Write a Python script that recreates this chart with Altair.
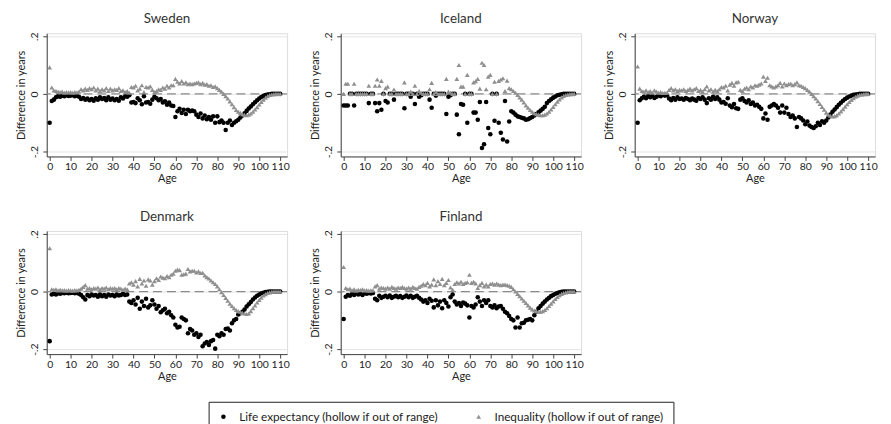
import altair as alt
import pandas as pd

FONT = "Lato"

ages = list(range(111))
countries = ["Sweden", "Iceland", "Norway", "Denmark", "Finland"]
series_names = ["Life expectancy (hollow if out of range)", "Inequality (hollow if out of range)"]
y_ticks = [-0.2, -0.1, 0, 0.1, 0.2]
x_ticks = list(range(0, 111, 10))

sweden_le = [
    -0.100, -0.025, -0.020, -0.012, -0.008, -0.010, -0.006, -0.008, -0.005, -0.007,
    -0.006, -0.005, -0.008, -0.006, -0.010, -0.018, -0.014, -0.020, -0.016, -0.022,
    -0.018, -0.024, -0.015, -0.020, -0.012, -0.018, -0.014, -0.022, -0.012, -0.020,
    -0.016, -0.022, -0.018, -0.024, -0.012, -0.016, -0.008, -0.010, -0.005, -0.030,
    -0.028, -0.032, -0.015, -0.022, -0.036, -0.008, -0.030, -0.028, -0.034, -0.020,
    -0.010, -0.015, -0.022, -0.018, -0.030, -0.026, -0.038, -0.030, -0.040, -0.042,
    -0.080, -0.060, -0.052, -0.066, -0.055, -0.070, -0.055, -0.060, -0.058, -0.060,
    -0.072, -0.080, -0.068, -0.085, -0.075, -0.088, -0.080, -0.090, -0.078, -0.100,
    -0.078, -0.098, -0.092, -0.100, -0.125, -0.100, -0.092, -0.108, -0.100, -0.095,
    -0.090, -0.082, -0.075, -0.067, -0.059, -0.051, -0.044, -0.036, -0.029, -0.022,
    -0.016, -0.011, -0.007, -0.004, -0.002, -0.001, 0.0, 0.0, 0.0, 0.0, 0.0,
]
sweden_ineq = [
    0.092, 0.022, 0.012, 0.010, 0.008, 0.006, 0.008, 0.004, 0.006, 0.005,
    0.006, 0.004, 0.006, 0.005, 0.008, 0.016, 0.012, 0.018, 0.014, 0.020,
    0.016, 0.022, 0.012, 0.018, 0.010, 0.016, 0.012, 0.020, 0.010, 0.018,
    0.012, 0.016, 0.014, 0.020, 0.010, 0.012, 0.006, 0.010, 0.004, 0.024,
    0.022, 0.028, 0.012, 0.018, 0.030, 0.006, 0.024, 0.022, 0.026, 0.014,
    0.006, 0.010, 0.016, 0.014, 0.022, 0.018, 0.028, 0.022, 0.030, 0.030,
    0.052, 0.042, 0.036, 0.044, 0.036, 0.040, 0.034, 0.036, 0.034, 0.036,
    0.038, 0.040, 0.034, 0.038, 0.032, 0.034, 0.028, 0.030, 0.024, 0.026,
    0.020, 0.014, 0.008, 0.000, -0.008, -0.016, -0.026, -0.036, -0.046, -0.056,
    -0.062, -0.066, -0.070, -0.073, -0.074, -0.072, -0.068, -0.062, -0.054, -0.046,
    -0.037, -0.028, -0.020, -0.013, -0.008, -0.004, -0.002, -0.001, 0.0, 0.0, 0.0,
]

iceland_le = [
    -0.040, -0.040, -0.040, 0.0, 0.0, -0.040, 0.0, 0.0, 0.0, 0.0,
    0.0, 0.0, -0.032, 0.0, 0.0, -0.032, -0.060, -0.032, -0.055, 0.0,
    -0.025, -0.030, 0.0, 0.0, -0.020, 0.0, 0.0, 0.0, 0.0, -0.050,
    0.0, 0.0, -0.010, 0.0, -0.035, 0.0, -0.010, -0.005, 0.0, 0.0,
    0.0, -0.020, -0.048, 0.0, -0.006, 0.0, 0.0, 0.0, 0.0, -0.070,
    -0.010, -0.005, 0.0, 0.0, -0.072, -0.140, -0.035, -0.038, 0.0, -0.100,
    0.0, 0.0, -0.065, -0.065, -0.090, -0.028, -0.188, -0.175, -0.028, -0.118,
    -0.140, 0.0, -0.093, 0.0, -0.100, -0.135, -0.158, -0.025, -0.165, -0.096,
    -0.060, -0.065, -0.072, -0.078, -0.080, -0.083, -0.085, -0.090, -0.088, -0.084,
    -0.080, -0.075, -0.070, -0.064, -0.058, -0.052, -0.045, -0.032, -0.025, -0.019,
    -0.013, -0.009, -0.005, -0.003, -0.001, 0.0, 0.0, 0.0, 0.0, 0.0, 0.0,
]
iceland_ineq = [
    0.0, 0.035, 0.035, 0.0, 0.0, 0.035, 0.0, 0.0, 0.0, 0.0,
    0.0, 0.0, 0.028, 0.0, 0.0, 0.028, 0.050, 0.028, 0.045, 0.0,
    0.020, 0.025, 0.0, 0.0, 0.015, 0.0, 0.0, 0.0, 0.0, 0.040,
    0.0, 0.0, 0.008, 0.0, 0.028, 0.0, 0.010, 0.004, 0.0, 0.0,
    0.0, 0.016, 0.038, 0.0, 0.006, 0.0, 0.0, 0.0, 0.0, 0.052,
    0.008, 0.004, 0.0, 0.0, 0.052, 0.100, 0.025, 0.025, 0.0, 0.066,
    0.0, 0.0, 0.040, 0.044, 0.052, 0.018, 0.108, 0.100, 0.016, 0.060,
    0.066, 0.0, 0.042, 0.0, 0.045, 0.050, 0.054, 0.010, 0.046, 0.020,
    0.016, 0.010, 0.004, -0.004, -0.012, -0.020, -0.030, -0.040, -0.048, -0.056,
    -0.062, -0.067, -0.070, -0.072, -0.074, -0.074, -0.072, -0.068, -0.062, -0.054,
    -0.045, -0.036, -0.027, -0.019, -0.012, -0.007, -0.004, -0.002, -0.001, 0.0, 0.0,
]

norway_le = [
    -0.100, -0.022, -0.015, -0.010, -0.015, -0.008, -0.012, -0.006, -0.014, -0.010,
    -0.005, -0.008, -0.004, -0.006, -0.005, -0.016, -0.022, -0.014, -0.020, -0.012,
    -0.018, -0.016, -0.020, -0.014, -0.018, -0.022, -0.016, -0.020, -0.024, -0.014,
    -0.018, -0.012, -0.020, -0.032, -0.015, -0.020, -0.010, -0.018, -0.012, -0.020,
    -0.030, -0.028, -0.034, -0.015, -0.040, -0.046, -0.035, -0.050, -0.052, -0.020,
    -0.015, -0.025, -0.030, -0.022, -0.035, -0.030, -0.040, -0.038, -0.045, -0.052,
    -0.085, -0.068, -0.090, -0.045, -0.040, -0.035, -0.040, -0.048, -0.065, -0.040,
    -0.065, -0.048, -0.070, -0.080, -0.075, -0.085, -0.115, -0.080, -0.085, -0.092,
    -0.105, -0.096, -0.110, -0.115, -0.118, -0.112, -0.100, -0.108, -0.095, -0.100,
    -0.092, -0.082, -0.072, -0.062, -0.054, -0.046, -0.038, -0.031, -0.024, -0.018,
    -0.013, -0.009, -0.006, -0.003, -0.002, -0.001, 0.0, 0.0, 0.0, 0.0, 0.0,
]
norway_ineq = [
    0.095, 0.018, 0.010, 0.008, 0.012, 0.006, 0.010, 0.004, 0.012, 0.008,
    0.004, 0.006, 0.003, 0.004, 0.004, 0.014, 0.020, 0.012, 0.016, 0.010,
    0.014, 0.012, 0.016, 0.010, 0.014, 0.018, 0.012, 0.016, 0.020, 0.010,
    0.014, 0.008, 0.016, 0.026, 0.012, 0.016, 0.008, 0.014, 0.010, 0.016,
    0.024, 0.022, 0.028, 0.012, 0.032, 0.038, 0.028, 0.040, 0.042, 0.014,
    0.010, 0.018, 0.022, 0.016, 0.026, 0.022, 0.030, 0.028, 0.032, 0.036,
    0.060, 0.045, 0.056, 0.030, 0.026, 0.022, 0.026, 0.030, 0.038, 0.026,
    0.036, 0.030, 0.034, 0.036, 0.030, 0.034, 0.040, 0.030, 0.028, 0.024,
    0.020, 0.014, 0.008, 0.000, -0.008, -0.016, -0.025, -0.035, -0.045, -0.055,
    -0.065, -0.072, -0.076, -0.078, -0.077, -0.074, -0.068, -0.061, -0.053, -0.044,
    -0.036, -0.028, -0.021, -0.015, -0.010, -0.006, -0.003, -0.002, -0.001, 0.0, 0.0,
]

denmark_le = [
    -0.172, -0.010, -0.008, -0.010, -0.006, -0.008, -0.005, -0.006, -0.004, -0.006,
    -0.005, -0.004, -0.006, -0.005, -0.008, -0.012, -0.020, -0.028, -0.012, -0.016,
    -0.010, -0.014, -0.012, -0.018, -0.010, -0.016, -0.012, -0.018, -0.010, -0.014,
    -0.012, -0.016, -0.010, -0.014, -0.012, -0.008, -0.012, -0.010, -0.035, -0.040,
    -0.030, -0.045, -0.022, -0.060, -0.035, -0.050, -0.025, -0.055, -0.048, -0.030,
    -0.045, -0.060, -0.050, -0.072, -0.065, -0.060, -0.075, -0.070, -0.082, -0.090,
    -0.115, -0.125, -0.122, -0.090, -0.095, -0.100, -0.145, -0.130, -0.135, -0.150,
    -0.145, -0.158, -0.150, -0.190, -0.180, -0.175, -0.185, -0.172, -0.168, -0.198,
    -0.150, -0.155, -0.145, -0.150, -0.130, -0.128, -0.135, -0.110, -0.100, -0.095,
    -0.080, -0.075, -0.070, -0.062, -0.052, -0.044, -0.036, -0.028, -0.021, -0.015,
    -0.010, -0.006, -0.004, -0.002, -0.001, 0.0, 0.0, 0.0, 0.0, 0.0, 0.0,
]
denmark_ineq = [
    0.150, 0.008, 0.006, 0.008, 0.004, 0.006, 0.004, 0.005, 0.003, 0.005,
    0.004, 0.003, 0.005, 0.004, 0.006, 0.010, 0.016, 0.022, 0.010, 0.012,
    0.008, 0.012, 0.010, 0.014, 0.008, 0.012, 0.010, 0.014, 0.008, 0.012,
    0.010, 0.012, 0.008, 0.012, 0.010, 0.006, 0.010, 0.008, 0.028, 0.032,
    0.024, 0.036, 0.018, 0.044, 0.028, 0.038, 0.020, 0.042, 0.038, 0.024,
    0.036, 0.046, 0.040, 0.052, 0.048, 0.046, 0.054, 0.050, 0.058, 0.062,
    0.072, 0.076, 0.074, 0.058, 0.060, 0.062, 0.078, 0.070, 0.072, 0.072,
    0.066, 0.070, 0.064, 0.065, 0.056, 0.050, 0.045, 0.038, 0.032, 0.026,
    0.018, 0.008, -0.002, -0.012, -0.022, -0.032, -0.042, -0.050, -0.058, -0.064,
    -0.068, -0.070, -0.074, -0.076, -0.078, -0.076, -0.068, -0.058, -0.048, -0.038,
    -0.029, -0.021, -0.014, -0.009, -0.005, -0.003, -0.001, 0.0, 0.0, 0.0, 0.0,
]

finland_le = [
    -0.095, -0.018, -0.012, -0.015, -0.008, -0.012, -0.006, -0.010, -0.008, -0.012,
    -0.006, -0.008, -0.005, -0.007, -0.005, -0.025, -0.030, -0.015, -0.022, -0.018,
    -0.015, -0.020, -0.014, -0.022, -0.018, -0.015, -0.020, -0.016, -0.022, -0.018,
    -0.014, -0.020, -0.015, -0.022, -0.018, -0.015, -0.022, -0.028, -0.035, -0.030,
    -0.040, -0.025, -0.032, -0.055, -0.030, -0.048, -0.035, -0.058, -0.030, -0.040,
    -0.052, -0.020, -0.010, -0.035, -0.045, -0.040, -0.050, -0.038, -0.042, -0.048,
    -0.090, -0.050, -0.055, -0.045, -0.020, -0.035, -0.050, -0.030, -0.040, -0.030,
    -0.050, -0.055, -0.048, -0.058, -0.052, -0.050, -0.060, -0.070, -0.075, -0.085,
    -0.095, -0.100, -0.125, -0.090, -0.125, -0.110, -0.108, -0.100, -0.098, -0.095,
    -0.100, -0.082, -0.070, -0.058, -0.050, -0.042, -0.035, -0.028, -0.022, -0.016,
    -0.012, -0.008, -0.005, -0.003, -0.001, 0.0, 0.0, 0.0, 0.0, 0.0, 0.0,
]
finland_ineq = [
    0.085, 0.012, 0.008, 0.010, 0.004, 0.008, 0.003, 0.006, 0.005, 0.008,
    0.004, 0.005, 0.003, 0.004, 0.004, 0.018, 0.022, 0.010, 0.014, 0.012,
    0.010, 0.014, 0.010, 0.016, 0.012, 0.010, 0.014, 0.012, 0.016, 0.012,
    0.010, 0.014, 0.010, 0.016, 0.012, 0.010, 0.016, 0.020, 0.026, 0.022,
    0.030, 0.018, 0.024, 0.042, 0.022, 0.036, 0.026, 0.044, 0.022, 0.030,
    0.040, 0.014, 0.006, 0.026, 0.032, 0.028, 0.034, 0.026, 0.030, 0.032,
    0.058, 0.030, 0.034, 0.028, 0.012, 0.022, 0.030, 0.018, 0.024, 0.018,
    0.026, 0.028, 0.024, 0.028, 0.024, 0.022, 0.024, 0.024, 0.022, 0.020,
    0.016, 0.008, 0.000, -0.008, -0.016, -0.024, -0.032, -0.040, -0.048, -0.056,
    -0.062, -0.066, -0.068, -0.070, -0.070, -0.068, -0.064, -0.058, -0.050, -0.042,
    -0.034, -0.026, -0.019, -0.013, -0.008, -0.005, -0.003, -0.001, 0.0, 0.0, 0.0,
]

country_data = {
    "Sweden": (sweden_le, sweden_ineq),
    "Iceland": (iceland_le, iceland_ineq),
    "Norway": (norway_le, norway_ineq),
    "Denmark": (denmark_le, denmark_ineq),
    "Finland": (finland_le, finland_ineq),
}

rows = []
for c in countries:
    le, ineq = country_data[c]
    for s_idx, vals in enumerate((le, ineq)):
        for a, v in zip(ages, vals):
            rows.append({"country": c, "age": a, "series": series_names[s_idx], "order": s_idx, "value": v})
df = pd.DataFrame(rows)
zero_df = pd.DataFrame({"v": [0]})

TXT = "#222222"
AX = "#444444"

x_axis = alt.Axis(values=x_ticks, title="Age", grid=False, tickSize=4, labelPadding=1,
                  labelFontSize=10.5, titleFontSize=11, titlePadding=1,
                  labelFont=FONT, titleFont=FONT, titleFontWeight=400,
                  labelColor=TXT, titleColor=TXT, domainColor=AX, tickColor=AX)
y_label_expr = ("datum.value < -0.15 ? '-.2' : datum.value < -0.05 ? '-.1' : "
                "datum.value < 0.05 ? '0' : datum.value < 0.15 ? '.1' : '.2'")
y_axis = alt.Axis(values=y_ticks, labelExpr=y_label_expr, labelAngle=270, labelAlign="center",
                  labelBaseline="bottom", title="Difference in years", grid=True,
                  gridColor="#e4e4e4", gridWidth=1, tickSize=4, labelPadding=3,
                  labelFontSize=10.5, titleFontSize=11, titlePadding=3,
                  labelFont=FONT, titleFont=FONT, titleFontWeight=400,
                  labelColor=TXT, titleColor=TXT, domainColor=AX, tickColor=AX)

legend = alt.Legend(orient="none", legendX=163, legendY=371, direction="horizontal", title=None,
                    strokeColor="#222222", padding=9, columnPadding=34, labelFontSize=11.8,
                    labelFont=FONT, labelColor=TXT, labelLimit=0, symbolSize=24,
                    labelOffset=10, symbolStrokeWidth=0)

X_DOM = [-1.4, 113.3]
Y_DOM = [-0.217, 0.21]


def panel(country):
    pts = alt.Chart(df).transform_filter(alt.datum.country == country).mark_point(
        filled=True, opacity=1, strokeWidth=0
    ).encode(
        x=alt.X("age:Q", scale=alt.Scale(domain=X_DOM, nice=False, zero=False), axis=x_axis),
        y=alt.Y("value:Q", scale=alt.Scale(domain=Y_DOM, nice=False), axis=y_axis),
        shape=alt.Shape("series:N", scale=alt.Scale(domain=series_names, range=["circle", "triangle-up"]), legend=legend),
        color=alt.Color("series:N", scale=alt.Scale(domain=series_names, range=["#000000", "#8f8f8f"]), legend=legend),
        size=alt.Size("series:N", scale=alt.Scale(domain=series_names, range=[21, 23]), legend=None),
        order=alt.Order("order:Q"),
    )
    zero = alt.Chart(zero_df).mark_rule(color="#8a8a8a", strokeDash=[9, 5], strokeWidth=1.3).encode(
        y=alt.Y("v:Q", scale=alt.Scale(domain=Y_DOM, nice=False))
    )
    return alt.layer(zero, pts).properties(
        width=242, height=124,
        title=alt.TitleParams(country, fontSize=13.5, font=FONT, fontWeight=400, color="#333333", offset=6),
    )


row1 = alt.hconcat(panel("Sweden"), panel("Iceland"), panel("Norway"), spacing=19)
row2 = alt.hconcat(panel("Denmark"), panel("Finland"), spacing=19)
chart = alt.vconcat(row1, row2, spacing=25).resolve_scale(
    color="shared", shape="shared", size="shared"
).properties(
    padding={"left": 7, "top": 2, "right": 5, "bottom": 5}
).configure_view(stroke=None).configure(background="white")

chart.save("out.html", embed_options={"renderer": "svg", "actions": False})
